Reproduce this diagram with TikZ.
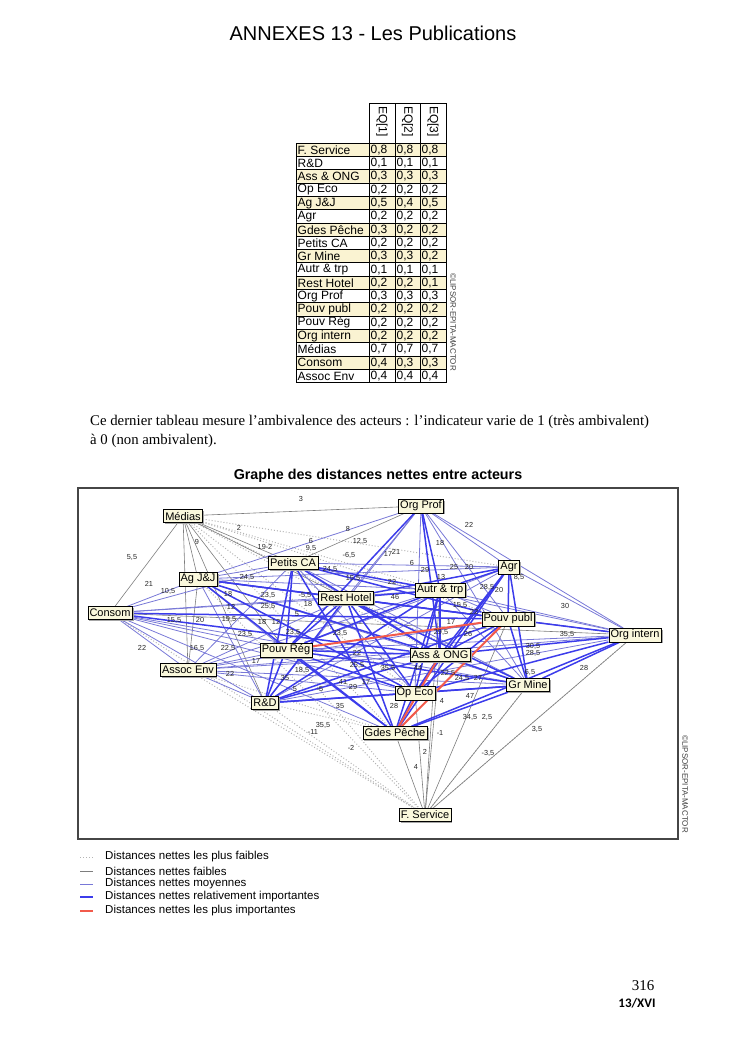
\documentclass[tikz,border=0pt]{standalone}
\usepackage{fontspec}
\setmainfont{Liberation Serif}
\setsansfont{Liberation Sans}
\newfontfamily\calibrifont{Carlito}
\usetikzlibrary{shadows, backgrounds}
\definecolor{cellbg}{RGB}{250,243,210}
\definecolor{actorbg}{RGB}{250,248,220}
\definecolor{faintgray}{RGB}{180,180,180}
\definecolor{weakgray}{RGB}{125,125,125}
\definecolor{midblue}{RGB}{120,120,215}
\definecolor{strongblue}{RGB}{60,60,235}
\definecolor{strongred}{RGB}{242,90,75}

\begin{document}
\begin{tikzpicture}[x=1pt, y=-1pt,
    cell/.style={draw, line width=0.6pt},
    celltxt/.style={anchor=west, inner sep=0pt, font=\sffamily\fontsize{12}{12}\selectfont},
    eqhead/.style={rotate=-90, anchor=west, inner sep=0pt, font=\sffamily\fontsize{12}{12}\selectfont},
    stamp/.style={rotate=-90, anchor=west, inner sep=0pt, text=black!75, font=\sffamily\fontsize{8}{8}\selectfont},
    actor/.style={draw, fill=actorbg, inner sep=1.8pt, minimum height=13pt, font=\sffamily\fontsize{11}{11}\selectfont,
        drop shadow={shadow xshift=1.5pt, shadow yshift=-1.5pt, fill=gray!70, opacity=1}},
    num/.style={inner sep=0pt, text=black!85, font=\sffamily\fontsize{7.3}{7.3}\selectfont},
    faint/.style={faintgray, line width=1pt, dotted},
    weak/.style={weakgray, line width=0.6pt},
    mid/.style={midblue, line width=0.8pt},
    strong/.style={strongblue, line width=1.5pt},
    top/.style={strongred, line width=2pt},
    legtxt/.style={anchor=west, inner sep=0pt, font=\sffamily\fontsize{11.5}{11.5}\selectfont}
]
    \useasboundingbox (0,0) rectangle (745,1053);

    % Page head
    \node[font=\sffamily\fontsize{20}{20}\selectfont] (pagetitle) at (373,33) {ANNEXES 13 - Les Publications};

    % Ambivalence table
    \draw[cell] (369,103) rectangle (395,143) (395,103) rectangle (420,143) (420,103) rectangle (446,143);
    \node[eqhead] (eq1) at (382,106) {EQ[1]};
    \node[eqhead] (eq2) at (407.5,106) {EQ[2]};
    \node[eqhead] (eq3) at (433,106) {EQ[3]};
    \foreach \actor/\va/\vb/\vc [count=\i from 0] in {
        {F. Service}/{0,8}/{0,8}/{0,8}, {R\&D}/{0,1}/{0,1}/{0,1}, {Ass \& ONG}/{0,3}/{0,3}/{0,3},
        {Op Eco}/{0,2}/{0,2}/{0,2}, {Ag J\&J}/{0,5}/{0,4}/{0,5}, {Agr}/{0,2}/{0,2}/{0,2},
        {Gdes Pêche}/{0,3}/{0,2}/{0,2}, {Petits CA}/{0,2}/{0,2}/{0,2}, {Gr Mine}/{0,3}/{0,3}/{0,2},
        {Autr \& trp}/{0,1}/{0,1}/{0,1}, {Rest Hotel}/{0,2}/{0,2}/{0,1}, {Org Prof}/{0,3}/{0,3}/{0,3},
        {Pouv publ}/{0,2}/{0,2}/{0,2}, {Pouv Rég}/{0,2}/{0,2}/{0,2}, {Org intern}/{0,2}/{0,2}/{0,2},
        {Médias}/{0,7}/{0,7}/{0,7}, {Consom}/{0,4}/{0,3}/{0,3}, {Assoc Env}/{0,4}/{0,4}/{0,4}} {
        \ifodd\i \def\rowfill{white}\else \def\rowfill{cellbg}\fi
        \pgfmathsetmacro\yt{143+13.3*\i}
        \pgfmathsetmacro\yb{\yt+13.3}
        \pgfmathsetmacro\ym{\yt+6.9}
        \draw[cell, fill=\rowfill] (296,\yt) rectangle (369,\yb) (369,\yt) rectangle (395,\yb)
            (395,\yt) rectangle (420,\yb) (420,\yt) rectangle (446,\yb);
        \node[celltxt] (act\i) at (297.5,\ym) {\actor};
        \node[celltxt] (va\i) at (370.5,\ym) {\va};
        \node[celltxt] (vb\i) at (396.5,\ym) {\vb};
        \node[celltxt] (vc\i) at (421.5,\ym) {\vc};
    }
    \node[stamp] (stamptab) at (453,273) {©LIPSOR-EPITA-MACTOR};

    % Comment under the table
    \node[anchor=west, inner sep=0pt, font=\fontsize{14.8}{14.8}\selectfont] (txtone) at (90,422)
        {Ce dernier tableau mesure l’ambivalence des acteurs : l’indicateur varie de 1 (très ambivalent)};
    \node[anchor=west, inner sep=0pt, font=\fontsize{14.8}{14.8}\selectfont] (txttwo) at (90,441)
        {à 0 (non ambivalent).};

    % Graph
    \node[font=\sffamily\bfseries\fontsize{14.3}{14.3}\selectfont] (graphtitle) at (378,476)
        {Graphe des distances nettes entre acteurs};
    \node[stamp] (stampgraph) at (685,735) {©LIPSOR-EPITA-MACTOR};

    \node[actor] (medias) at (183,516) {Médias};
    \node[actor] (orgprof) at (421,506) {Org Prof};
    \node[actor] (petitsca) at (293,563) {Petits CA};
    \node[actor] (agr) at (509,567) {Agr};
    \node[actor] (agjj) at (198,579) {Ag J\&J};
    \node[actor] (autr) at (440,590) {Autr \& trp};
    \node[actor] (rest) at (346,598) {Rest Hotel};
    \node[actor] (consom) at (110,613) {Consom};
    \node[actor] (pouvpubl) at (508,619) {Pouv publ};
    \node[actor] (orgintern) at (635,635) {Org intern};
    \node[actor] (pouvreg) at (286,650) {Pouv Rég};
    \node[actor] (assong) at (440,655) {Ass \& ONG};
    \node[actor] (assocenv) at (188,670) {Assoc Env};
    \node[actor] (grmine) at (528,685) {Gr Mine};
    \node[actor] (opeco) at (415,693) {Op Eco};
    \node[actor] (rd) at (265,703) {R\&D};
    \node[actor] (gdes) at (395,733) {Gdes Pêche};
    \node[actor] (fserv) at (425,815) {F. Service};

    \begin{pgfonlayer}{background}
        \draw[gray!55!black, line width=1.2pt] (78,488) rectangle (678,839);
        % net distances, weakest first
        \foreach \a/\b in {medias/agr, medias/autr, medias/pouvpubl, medias/assong, medias/opeco,
            medias/gdes, medias/grmine, rd/fserv, assocenv/fserv, consom/fserv, pouvreg/fserv,
            agjj/fserv, grmine/fserv, orgintern/fserv, assocenv/gdes, rd/gdes}
            \draw[faint] (\a) -- (\b);
        \foreach \a/\b in {medias/orgprof, medias/consom, medias/agjj, medias/assocenv, medias/pouvreg,
            medias/petitsca, medias/rest, medias/rd, consom/orgintern, gdes/fserv, opeco/fserv,
            assong/fserv, pouvpubl/fserv, grmine/fserv, orgintern/fserv, autr/fserv, agjj/assocenv,
            petitsca/orgprof}
            \draw[weak] (\a) -- (\b);
        \foreach \a/\b in {orgprof/agjj, orgprof/agr, orgprof/orgintern, orgprof/rest, orgprof/pouvpubl,
            orgprof/grmine, orgprof/opeco, orgprof/rd, consom/agjj, consom/petitsca, consom/rest,
            consom/autr, consom/pouvreg, consom/assocenv, consom/rd, consom/opeco, consom/gdes,
            consom/grmine, agjj/petitsca, agjj/autr, agjj/agr, agjj/pouvreg, agjj/rd, agjj/grmine,
            agjj/orgintern, petitsca/rest, petitsca/agr, petitsca/orgintern, petitsca/assocenv,
            petitsca/opeco, petitsca/grmine, rest/orgintern, rest/assocenv, autr/pouvpubl,
            autr/orgintern, autr/grmine, autr/assocenv, agr/orgintern, agr/pouvreg, agr/rd,
            pouvpubl/assocenv, orgintern/pouvreg, orgintern/rd, orgintern/assocenv, pouvreg/assocenv,
            assong/assocenv, assocenv/rd, assocenv/opeco, assocenv/grmine}
            \draw[mid] (\a) -- (\b);
        \foreach \a/\b in {orgprof/autr, orgprof/assong, orgprof/pouvreg, consom/pouvpubl, consom/assong,
            agjj/rest, agjj/pouvpubl, agjj/assong, agjj/opeco, agjj/gdes, petitsca/autr,
            petitsca/pouvpubl, petitsca/pouvreg, petitsca/assong, petitsca/rd, petitsca/gdes,
            rest/autr, rest/agr, rest/pouvpubl, rest/pouvreg, rest/assong, rest/opeco, rest/gdes,
            rest/grmine, rest/rd, autr/agr, autr/pouvreg, autr/assong, autr/opeco, autr/gdes, autr/rd,
            agr/pouvpubl, agr/assong, agr/opeco, agr/gdes, agr/grmine, pouvpubl/orgintern,
            pouvpubl/assong, pouvpubl/grmine, pouvpubl/opeco, pouvpubl/rd, orgintern/assong,
            orgintern/grmine, orgintern/opeco, orgintern/gdes, pouvreg/assong, pouvreg/opeco,
            pouvreg/gdes, pouvreg/grmine, pouvreg/rd, assong/grmine, assong/opeco, assong/rd,
            grmine/opeco, grmine/gdes, grmine/rd, rd/opeco, opeco/gdes}
            \draw[strong] (\a) -- (\b);
        \foreach \a/\b in {pouvreg/pouvpubl, gdes/pouvpubl, gdes/assong}
            \draw[top] (\a) -- (\b);
    \end{pgfonlayer}

    % Distance values
    \foreach \x/\y/\t [count=\i] in {301/499/3, 239/528/2, 197/542/9, 132/557/{5,5}, 265/547/{19-2},
        311/541/6, 311/548/{9,5}, 348/529/8, 360/541/{12,5}, 349/555/{-6,5}, 388/554/17, 396/552/21,
        469/525/22, 440/543/18, 412/563/6, 425/570/29, 454/567/25, 469/567/20, 441/577/13,
        392/582/22, 487/587/{28,5}, 499/590/20, 519/577/{8,5}, 565/606/30, 149/584/21,
        168/591/{10,5}, 247/577/{24,5}, 330/569/{24,5}, 353/578/{15,5}, 228/594/18, 231/607/12,
        268/595/{23,5}, 268/606/{25,5}, 305/595/{-5,5}, 308/604/18, 395/597/46, 174/620/{15,5},
        200/620/20, 229/619/{19,5}, 262/622/18, 276/622/12, 297/614/5, 245/634/{23,5},
        293/632/{23,5}, 340/633/{23,5}, 460/605/{15,5}, 474/612/22, 451/622/17, 441/632/{29,5},
        468/634/26, 567/634/{35,5}, 533/646/{30,5}, 533/653/{28,5}, 142/648/22, 197/648/{16,5},
        228/648/{22,5}, 256/661/17, 230/674/22, 302/670/{18,5}, 357/653/22, 357/665/{25,5},
        388/668/{35,5}, 418/668/44, 448/673/{22,5}, 462/678/{24,5}, 478/678/27, 530/672/{6,5},
        584/668/28, 285/678/35, 295/689/5, 320/689/-5, 343/682/41, 353/687/29, 366/682/17,
        442/701/4, 470/696/47, 394/706/28, 340/706/35, 323/725/{35,5}, 313/732/-11, 351/748/-2,
        440/733/-1, 425/752/2, 416/767/4, 470/717/{34,5}, 487/717/{2,5}, 537/729/{3,5},
        488/753/{-3,5}}
        \node[num] (d\i) at (\x,\y) {\t};

    % Legend
    \draw[faint] (80,857) -- (93,857);
    \draw[weak] (80,871) -- (93,871);
    \draw[mid] (80,884) -- (93,884);
    \draw[strong] (80,897) -- (93,897);
    \draw[top] (80,911) -- (93,911);
    \node[legtxt] (legfaint) at (105,857) {Distances nettes les plus faibles};
    \node[legtxt] (legweak) at (105,871) {Distances nettes faibles};
    \node[legtxt] (legmid) at (105,884) {Distances nettes moyennes};
    \node[legtxt] (legstrong) at (105,897) {Distances nettes relativement importantes};
    \node[legtxt] (legtop) at (105,911) {Distances nettes les plus importantes};

    % Page foot
    \node[font=\fontsize{15}{15}\selectfont] (pagenum) at (643,986) {316};
    \node[font=\calibrifont\bfseries\fontsize{13}{13}\selectfont] (annexnum) at (637,1003) {13/XVI};
\end{tikzpicture}
\end{document}
